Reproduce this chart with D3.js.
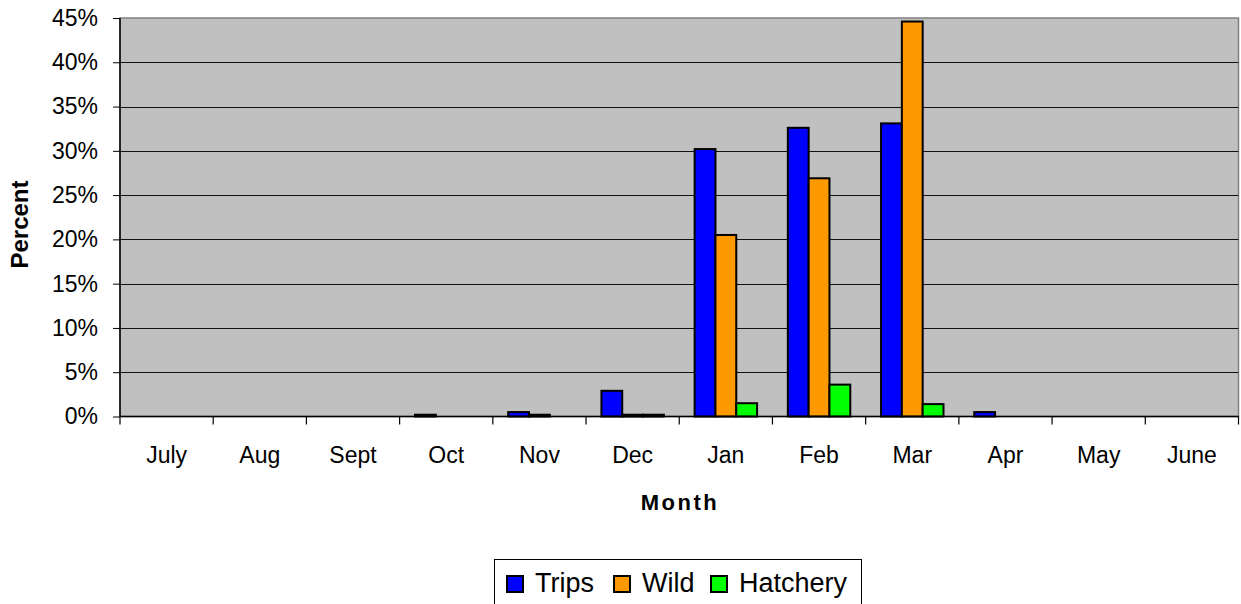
<!DOCTYPE html>
<html>
<head>
<meta charset="utf-8">
<script src="https://cdn.jsdelivr.net/npm/d3@7"></script>
<style>
  html, body { margin: 0; padding: 0; background: #fff; }
  svg { display: block; font-family: "Liberation Sans", Arial, sans-serif; }
</style>
</head>
<body>
<svg id="chart" width="1241" height="604"></svg>
<script>
// Monthly share of trips and of wild / hatchery fish (percent)
const months = ["July", "Aug", "Sept", "Oct", "Nov", "Dec", "Jan", "Feb", "Mar", "Apr", "May", "June"];
const trips    = [0, 0, 0, 0.2, 0.5, 2.9, 30.2, 32.6, 33.1, 0.5, 0, 0];
const wild     = [0, 0, 0, 0, 0.2, 0.2, 20.5, 26.9, 44.6, 0, 0, 0];
const hatchery = [0, 0, 0, 0, 0, 0.2, 1.5, 3.6, 1.4, 0, 0, 0];
const seriesNames = ["Trips", "Wild", "Hatchery"];
const seriesColors = ["#0000FF", "#FF9900", "#00FF00"];
const yTicks = [0, 5, 10, 15, 20, 25, 30, 35, 40, 45];

const seriesValues = [trips, wild, hatchery];

const svg = d3.select("#chart");
const plot = { left: 120, right: 1238.5, top: 18, bottom: 416.5 };

const x0 = d3.scaleBand().domain(months).range([plot.left, plot.right]).padding(0);
const cw = x0.bandwidth();
const x1 = d3.scaleBand().domain(seriesNames).range([cw * 0.165, cw * 0.835]).padding(0);
const y = d3.scaleLinear().domain([0, 45]).range([plot.bottom, plot.top]);

// plot background
svg.append("rect")
  .attr("x", plot.left).attr("y", plot.top)
  .attr("width", plot.right - plot.left).attr("height", plot.bottom - plot.top)
  .attr("fill", "#C0C0C0").attr("stroke", "#808080").attr("stroke-width", 1.5);

// horizontal gridlines
svg.append("g")
  .selectAll("line")
  .data(yTicks.filter(t => t > 0 && t < 45))
  .join("line")
  .attr("x1", plot.left).attr("x2", plot.right)
  .attr("y1", d => Math.round(y(d)) + 0.5).attr("y2", d => Math.round(y(d)) + 0.5)
  .attr("stroke", "#111").attr("stroke-width", 1);

// bars
const groups = svg.append("g")
  .selectAll("g")
  .data(months)
  .join("g")
  .attr("transform", d => `translate(${x0(d)},0)`);

groups.selectAll("rect")
  .data((m, i) => seriesNames.map((s, k) => ({ s, k, v: seriesValues[k][i] })).filter(d => d.v > 0))
  .join("rect")
  .attr("x", d => x1(d.s))
  .attr("width", x1.bandwidth())
  .attr("y", d => y(d.v))
  .attr("height", d => y(0) - y(d.v))
  .attr("fill", d => seriesColors[d.k])
  .attr("stroke", "#000")
  .attr("stroke-width", 2);

// y axis
const yAxis = d3.axisLeft(y)
  .tickValues(yTicks)
  .tickFormat(d => d + "%")
  .tickSize(7)
  .tickPadding(15);
const gy = svg.append("g").attr("transform", `translate(${plot.left},0)`).call(yAxis);
gy.select(".domain").attr("stroke", "#000").attr("stroke-width", 1.5).attr("d", `M0,${plot.top}V${plot.bottom}`);
gy.selectAll(".tick line").attr("stroke", "#000");
gy.selectAll(".tick text").attr("font-size", 23).attr("fill", "#000")
  .attr("font-family", "Liberation Sans, Arial, sans-serif");

// x axis with ticks between categories
const gx = svg.append("g").attr("transform", `translate(0,${plot.bottom})`);
gx.append("line").attr("x1", plot.left).attr("x2", plot.right).attr("y1", 0).attr("y2", 0)
  .attr("stroke", "#000").attr("stroke-width", 1.5);
gx.selectAll("line.tick")
  .data(months.map(m => x0(m)).concat([plot.right]))
  .join("line")
  .attr("class", "tick")
  .attr("x1", d => d).attr("x2", d => d)
  .attr("y1", 0).attr("y2", 8)
  .attr("stroke", "#000").attr("stroke-width", 1.2);
gx.selectAll("text")
  .data(months)
  .join("text")
  .attr("x", d => x0(d) + cw / 2)
  .attr("y", 46)
  .attr("text-anchor", "middle")
  .attr("font-size", 23)
  .attr("fill", "#000")
  .text(d => d);

// axis titles
svg.append("text")
  .attr("transform", "translate(28,224.5) rotate(-90)")
  .attr("text-anchor", "middle")
  .attr("font-size", 24).attr("font-weight", "bold")
  .text("Percent");
svg.append("text")
  .attr("x", 680).attr("y", 510)
  .attr("text-anchor", "middle")
  .attr("font-size", 22).attr("font-weight", "bold")
  .attr("letter-spacing", 2.5)
  .text("Month");

// legend
const legend = svg.append("g");
legend.append("rect")
  .attr("x", 494.5).attr("y", 559.5).attr("width", 367).attr("height", 60)
  .attr("fill", "#fff").attr("stroke", "#000").attr("stroke-width", 1);
const legendX = [506, 613, 710];
const items = legend.selectAll("g.item")
  .data(seriesNames)
  .join("g")
  .attr("class", "item")
  .attr("transform", (d, i) => `translate(${legendX[i]},0)`);
items.append("rect")
  .attr("x", 1).attr("y", 576).attr("width", 16).attr("height", 16)
  .attr("fill", (d, i) => seriesColors[i]).attr("stroke", "#000").attr("stroke-width", 2);
items.append("text")
  .attr("x", 29).attr("y", 592)
  .attr("font-size", 27)
  .attr("fill", "#000")
  .text(d => d);
</script>
</body>
</html>
